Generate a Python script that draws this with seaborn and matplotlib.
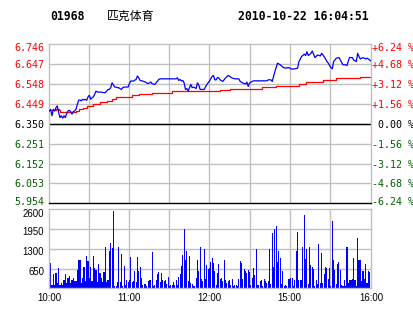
import matplotlib
matplotlib.use("Agg")
import matplotlib.pyplot as plt
import matplotlib.transforms as mtransforms
import seaborn as sns
import pandas as pd

# ---------------- data ----------------
stock_code = "01968"
stock_name = "匹克体育"
timestamp = "2010-10-22 16:04:51"
prev_close = 6.350

price_ticks = [5.954, 6.053, 6.152, 6.251, 6.350, 6.449, 6.548, 6.647, 6.746]
pct_labels = ["-6.24 %", "-4.68 %", "-3.12 %", "-1.56 %", " 0.00 %",
              "+1.56 %", "+3.12 %", "+4.68 %", "+6.24 %"]
vol_ticks = [650, 1300, 1950, 2600]
time_labels = ["10:00", "11:00", "12:00", "15:00", "16:00"]

price_minutes = list(range(0, 60)) + [
    60, 61, 63, 65, 66, 67, 68, 70, 72, 74, 76, 77, 79, 80, 82, 83, 95, 96, 97, 98,
    99, 100, 101, 102, 103, 104, 106, 107, 108, 110, 111, 112, 113, 116, 118, 120,
    122, 123, 124, 125, 126, 127, 128, 130, 132, 134, 137, 139, 142, 143, 145, 147,
    148, 149, 150, 152, 153, 163, 164, 166, 167, 169, 171, 173, 175, 177, 179, 182,
    184, 186, 187, 189, 191, 192, 193, 194, 196, 197, 199, 201, 203, 204, 205, 207,
    208, 209, 210, 211, 212, 213, 215, 217, 218, 220, 222, 223, 224, 225, 227, 228,
    230, 231, 232, 233, 235, 237, 238, 240, 241]
prices = [
    6.414, 6.422, 6.390, 6.422, 6.414, 6.431, 6.439, 6.406, 6.381, 6.390,
    6.378, 6.390, 6.381, 6.401, 6.414, 6.417, 6.411, 6.398, 6.411, 6.414,
    6.422, 6.447, 6.467, 6.469, 6.464, 6.472, 6.469, 6.472, 6.467, 6.484,
    6.492, 6.472, 6.480, 6.484, 6.497, 6.513, 6.508, 6.508, 6.508, 6.508,
    6.506, 6.505, 6.505, 6.513, 6.521, 6.521, 6.530, 6.554, 6.543, 6.533,
    6.533, 6.530, 6.530, 6.525, 6.521, 6.530, 6.533, 6.533, 6.533, 6.533,
    6.550, 6.563, 6.563, 6.571, 6.588, 6.579, 6.566, 6.563, 6.558, 6.550,
    6.558, 6.550, 6.546, 6.554, 6.571, 6.574, 6.574, 6.579, 6.566, 6.571,
    6.563, 6.566, 6.554, 6.521, 6.526, 6.513, 6.546, 6.530, 6.533, 6.526,
    6.554, 6.543, 6.521, 6.521, 6.546, 6.563,
    6.586, 6.591, 6.569, 6.569, 6.581, 6.578, 6.569, 6.561, 6.578, 6.591,
    6.578, 6.574, 6.574, 6.561, 6.553, 6.548, 6.558, 6.536, 6.553, 6.561,
    6.564, 6.564, 6.569, 6.569, 6.561, 6.610, 6.652, 6.644, 6.632, 6.627,
    6.630, 6.622, 6.624, 6.627, 6.660, 6.685, 6.697, 6.690, 6.709, 6.690,
    6.701, 6.713, 6.680, 6.693, 6.688, 6.701, 6.693, 6.673, 6.660, 6.652,
    6.640, 6.630, 6.624, 6.660, 6.677, 6.680, 6.668, 6.644, 6.644, 6.640,
    6.663, 6.680, 6.680, 6.668, 6.660, 6.701, 6.685, 6.673, 6.680, 6.673,
    6.677, 6.668, 6.663]

avg_minutes = [0, 3, 5, 7, 8, 18, 20, 22, 25, 28, 33, 38, 43, 47, 50, 60, 62, 67,
               77, 92, 108, 120, 128, 135, 159, 170, 187, 192, 205, 215, 233, 241]
avg_prices = [6.417, 6.420, 6.426, 6.420, 6.411, 6.411, 6.414, 6.422, 6.431, 6.439,
              6.450, 6.460, 6.464, 6.472, 6.484, 6.485, 6.492, 6.500, 6.505, 6.511,
              6.515, 6.515, 6.520, 6.525, 6.533, 6.540, 6.548, 6.558, 6.569, 6.578,
              6.583, 6.583]

volumes = [
    323, 843, 115, 462, 115, 520, 173, 658, 115, 173,
    115, 265, 462, 173, 323, 404, 173, 265, 323, 231,
    231, 600, 947, 947, 173, 323, 693, 231, 1074, 890,
    323, 716, 231, 1074, 670, 610, 196, 808, 500, 323,
    196, 543, 1351, 208, 265, 1236, 1500, 1328, 2550, 81,
    81, 196, 1351, 196, 1120, 81, 750, 115, 289, 196,
    289, 1040, 196, 231, 578, 208, 1040, 578, 693, 346,
    115, 150, 150, 81, 231, 265, 289, 1190, 81, 115,
    289, 462, 543, 196, 497, 289, 231, 289, 150, 381,
    81, 115, 115, 196, 115, 289, 115, 381, 462, 750,
    1097, 1940, 924, 1236, 231, 1074, 173, 150, 81, 81,
    346, 947, 578, 1351, 312, 231, 1305, 312, 774, 635,
    658, 866, 982, 843, 578, 115, 497, 808, 312, 346,
    231, 924, 265, 173, 231, 289, 115, 312, 81, 115,
    115, 81, 312, 889, 843, 312, 635, 578, 520, 600,
    543, 115, 346, 658, 427, 1293, 115, 115, 254, 289,
    81, 312, 231, 173, 231, 1293, 150, 1813, 693, 1952,
    2044, 866, 1213, 982, 150, 578, 81, 115, 81, 312,
    312, 346, 346, 81, 289, 1236, 1848, 265, 289, 289,
    1351, 2400, 959, 1293, 150, 1363, 774, 693, 635, 81,
    289, 139, 1444, 173, 1155, 173, 462, 693, 658, 312,
    658, 81, 2230, 924, 612, 150, 808, 866, 612, 115,
    81, 265, 81, 1351, 173, 289, 265, 312, 1005, 289,
    81, 1640, 947, 924, 231, 578, 312, 808, 173, 578,
    543]
vol_minutes = list(range(len(volumes)))

# ---------------- styling ----------------
W, H = 414, 314
GRID = "#c0c0c0"
RED = "#ff0000"
GREEN = "#006000"
BLUE = "#0000ff"
MONO = "DejaVu Sans Mono"
SANS = "Liberation Sans"

fig = plt.figure(figsize=(W / 100, H / 100), dpi=100)
fig.patch.set_facecolor("white")

x0, x1 = 49.3, 371.0
p_top, p_bot = 44.3, 203.3
v_top, v_bot = 209.3, 288.3
ax = fig.add_axes([x0 / W, 1 - p_bot / H, (x1 - x0) / W, (p_bot - p_top) / H])
axv = fig.add_axes([x0 / W, 1 - v_bot / H, (x1 - x0) / W, (v_bot - v_top) / H])

XMAX = 241.0
grid_x = [30, 60, 90, 120, 150, 180, 210]
tick_x = [0, 60, 120, 180, XMAX]

# ---- price panel ----
price_df = pd.DataFrame({"minute": price_minutes, "price": prices})
avg_df = pd.DataFrame({"minute": avg_minutes, "price": avg_prices})
for y in price_ticks[1:-1]:
    ax.axhline(y, color=GRID, lw=1, zorder=0)
for xg in grid_x:
    ax.axvline(xg, color=GRID, lw=1, zorder=0)
ax.axhline(prev_close, color="black", lw=1, zorder=1)
sns.lineplot(data=avg_df, x="minute", y="price", ax=ax, color=RED, lw=0.9,
             drawstyle="steps-post", estimator=None, zorder=2)
sns.lineplot(data=price_df, x="minute", y="price", ax=ax, color=BLUE, lw=0.9,
             estimator=None, zorder=3)
ax.set_xlim(0, XMAX)
ax.set_ylim(price_ticks[0], price_ticks[-1])
ax.set_xlabel("")
ax.set_ylabel("")
ax.set_xticks([])
ax.set_yticks(price_ticks)
ax.set_yticklabels([f"{v:.3f}" for v in price_ticks])
ax.tick_params(axis="y", length=0, pad=3.6, labelsize=7.2)
for spine in ax.spines.values():
    spine.set_color(GRID)
    spine.set_linewidth(1)
ax.spines["bottom"].set_color("black")

left_colors = [GREEN] * 4 + ["black"] + [RED] * 4
for i, (lab, c) in enumerate(zip(ax.get_yticklabels(), left_colors)):
    lab.set_color(c)
    lab.set_fontfamily(MONO)
    dy = 0
    if i == 0:
        dy = 2.6
    elif i == len(price_ticks) - 1:
        dy = -2.6
    if dy:
        lab.set_transform(lab.get_transform() + mtransforms.ScaledTranslation(0, dy / 100, fig.dpi_scale_trans))

axr = ax.twinx()
axr.set_ylim(ax.get_ylim())
axr.set_yticks(price_ticks)
axr.set_yticklabels(pct_labels)
axr.tick_params(axis="y", length=0, pad=0.5, labelsize=7.2)
for spine in axr.spines.values():
    spine.set_visible(False)
for i, (lab, c) in enumerate(zip(axr.get_yticklabels(), left_colors)):
    lab.set_color(c)
    lab.set_fontfamily(MONO)
    dy = 0
    if i == 0:
        dy = 2.6
    elif i == len(price_ticks) - 1:
        dy = -2.6
    if dy:
        lab.set_transform(lab.get_transform() + mtransforms.ScaledTranslation(0, dy / 100, fig.dpi_scale_trans))

# ---- volume panel ----
vol_df = pd.DataFrame({"minute": vol_minutes, "volume": volumes})
for y in vol_ticks[:-1]:
    axv.axhline(y, color=GRID, lw=1, zorder=0)
for xg in grid_x:
    axv.axvline(xg, color=GRID, lw=1, zorder=0)
sns.barplot(data=vol_df, x="minute", y="volume", ax=axv, native_scale=True,
            color=BLUE, saturation=1, width=0.8, linewidth=0, errorbar=None, zorder=2)
for p in axv.patches:
    p.set_antialiased(False)
axv.set_xlim(0, XMAX)
axv.set_ylim(0, vol_ticks[-1])
axv.set_xlabel("")
axv.set_ylabel("")
axv.set_yticks(vol_ticks)
axv.set_yticklabels([str(v) for v in vol_ticks])
axv.set_xticks(tick_x)
axv.set_xticklabels(time_labels)
axv.tick_params(length=0, labelsize=6.9)
axv.tick_params(axis="y", pad=3.6)
axv.tick_params(axis="x", pad=3.5)
for lab in axv.get_xticklabels() + axv.get_yticklabels():
    lab.set_fontfamily(SANS)
    lab.set_color("black")
for i, lab in enumerate(axv.get_yticklabels()):
    dy = 4.0 if i == len(vol_ticks) - 1 else 2.0
    lab.set_transform(lab.get_transform() + mtransforms.ScaledTranslation(0, -dy / 100, fig.dpi_scale_trans))
for spine in axv.spines.values():
    spine.set_color(GRID)
    spine.set_linewidth(1)

# ---- header ----
ty = 1 - 16.5 / H
fig.text(50 / W, ty, stock_code, fontfamily=MONO, fontweight="bold", fontsize=8.3,
         va="center", ha="left", color="black")
fig.text(107 / W, ty, stock_name, fontfamily=["Noto Sans CJK SC", "DejaVu Sans"],
         fontsize=8.6, va="center", ha="left", color="black")
fig.text(238 / W, ty, timestamp, fontfamily=MONO, fontweight="bold", fontsize=8.3,
         va="center", ha="left", color="black")

fig.savefig("out.png", dpi=100, facecolor="white")
